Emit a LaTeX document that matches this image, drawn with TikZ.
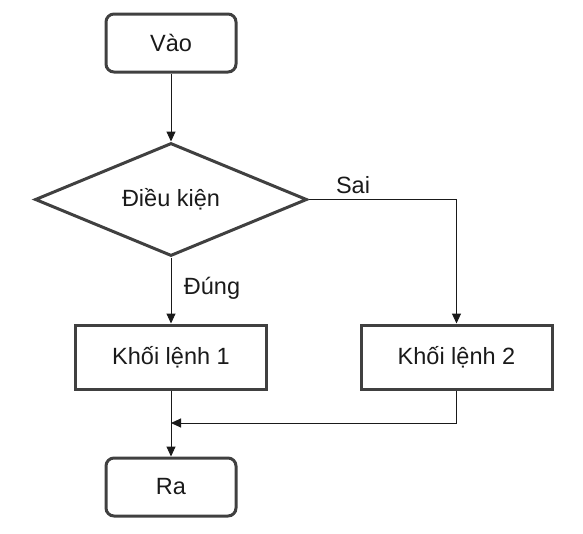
\documentclass[tikz,border=0pt]{standalone}
\usepackage{fontspec}
\setmainfont{Liberation Sans}
\usetikzlibrary{shapes.geometric,arrows.meta}
\definecolor{border}{HTML}{404040}
\definecolor{ink}{HTML}{1A1A1A}
\begin{document}
\begin{tikzpicture}[x=1pt,y=-1pt,
  every node/.style={font=\fontsize{23.5}{28}\selectfont, text=ink},
  term/.style={draw=border, line width=3pt, rounded corners=8pt, minimum width=130pt, minimum height=58pt, inner sep=0pt},
  blockbox/.style={draw=border, line width=3pt, minimum width=191pt, minimum height=64pt, inner sep=0pt},
  cond/.style={draw=border, line width=3pt, diamond, shape aspect=2.4, minimum width=272pt, minimum height=113pt, inner sep=0pt},
  conn/.style={draw=ink, line width=1pt, -{Triangle[length=10pt,width=9pt]}},
  lbl/.style={inner sep=0pt}]
\useasboundingbox (0,0) rectangle (583,533);
\node[term] (vao) at (171,43) {Vào};
\node[cond] (dk) at (171,199.5) {Điều kiện};
\node[blockbox] (b1) at (171,357) {Khối lệnh 1};
\node[blockbox] (b2) at (456.5,357) {Khối lệnh 2};
\node[term] (ra) at (171,487) {Ra};
\coordinate (m) at (171,423);
\draw[conn] (vao.south) -- (dk.north);
\draw[conn] (dk.south) -- (b1.north);
\draw[conn] (dk.east) -| (b2.north);
\draw[conn] (b1.south) -- (ra.north);
\draw[conn] (b2.south) |- (m);
\node[lbl] (dung) at (212,288) {Đúng};
\node[lbl] (sai) at (353,185) {Sai};
\end{tikzpicture}
\end{document}
